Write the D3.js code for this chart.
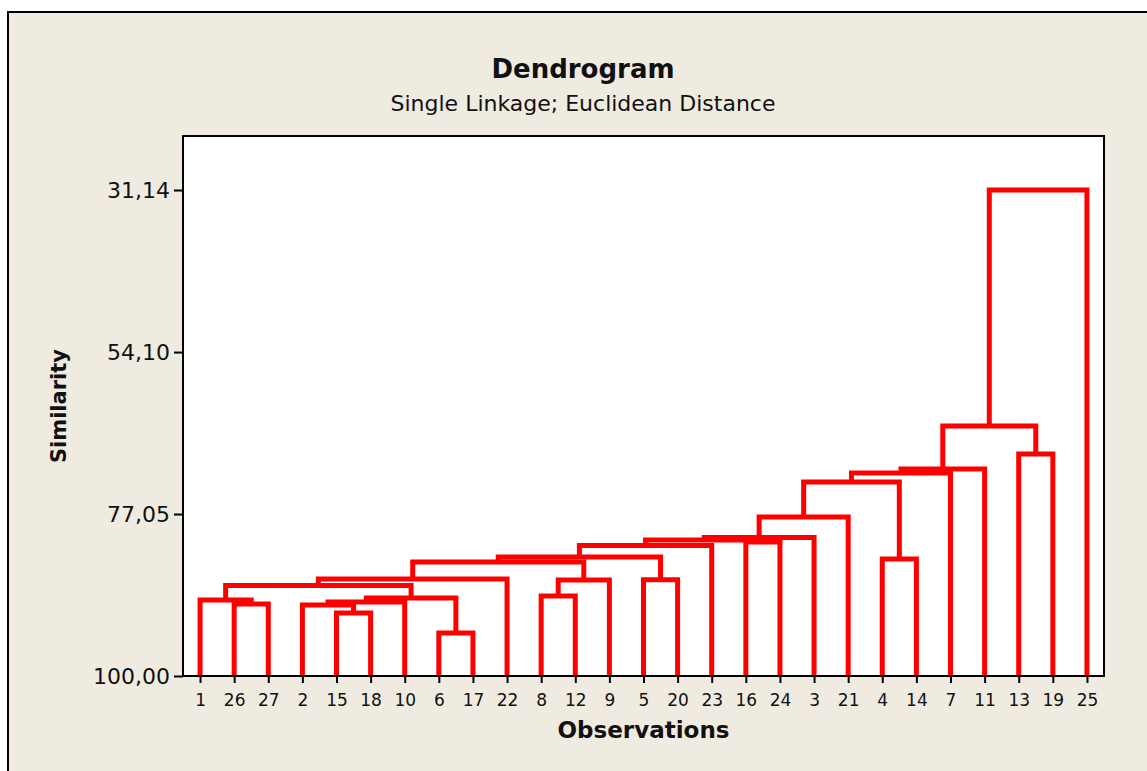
<!DOCTYPE html>
<html>
<head>
<meta charset="utf-8">
<script src="https://cdn.jsdelivr.net/npm/d3@7"></script>
<style>
  body { margin: 0; background: #fff; }
  text { font-family: 'DejaVu Sans', sans-serif; fill: #111; }
</style>
</head>
<body>
<svg id="chart" width="1147" height="771"></svg>
<script>
// leaf order along the x axis
const observations = [1, 26, 27, 2, 15, 18, 10, 6, 17, 22, 8, 12, 9, 5, 20, 23, 16, 24, 3, 21, 4, 14, 7, 11, 13, 19, 25];

// amalgamation steps (clusters joined, new cluster keeps the lower id)
const joinedA = [6, 15, 2, 26, 2, 1, 2, 8, 1, 8, 5, 1, 1, 4, 1, 1, 16, 1, 1, 1, 1, 1, 1, 13, 1, 1];
const joinedB = [17, 18, 15, 27, 10, 26, 6, 12, 2, 9, 20, 22, 8, 14, 5, 23, 24, 16, 3, 21, 4, 7, 11, 19, 13, 25];
const similarity = [93.91, 91.07, 89.94, 89.80, 89.52, 89.23, 88.95, 88.67, 87.18, 86.40, 86.35, 86.26,
  83.85, 83.42, 83.14, 81.51, 81.01, 80.73, 80.38, 77.47, 72.51, 71.24, 70.67, 68.55, 64.58, 31.14];

const yTicks = [31.14, 54.10, 77.05, 100.00];

const svg = d3.select('#chart'),
  plot = { left: 183, top: 136, right: 1104, bottom: 676 };

const fmt = d3.formatLocale({ decimal: ',', thousands: '.', grouping: [3], currency: ['', ''] }).format('.2f');

// figure background + frame
svg.append('rect')
  .attr('x', 8).attr('y', 12)
  .attr('width', 1200).attr('height', 800)
  .attr('fill', '#efebe1')
  .attr('stroke', '#000')
  .attr('stroke-width', 2);

svg.append('rect')
  .attr('x', plot.left).attr('y', plot.top)
  .attr('width', plot.right - plot.left)
  .attr('height', plot.bottom - plot.top)
  .attr('fill', '#fff');

const x = d3.scalePoint()
  .domain(observations)
  .range([plot.left, plot.right])
  .padding(0.5);

const y = d3.scaleLinear()
  .domain([100, 31.14])
  .range([plot.bottom, plot.top + 0.1 * (plot.bottom - plot.top)]);

// build the links
const nodes = new Map(observations.map(o => [o, { x: x(o), s: 100 }]));
const links = similarity.map((s, i) => {
  const a = nodes.get(joinedA[i]),
    b = nodes.get(joinedB[i]);
  nodes.set(Math.min(joinedA[i], joinedB[i]), { x: (a.x + b.x) / 2, s: s });
  return `M${a.x},${y(a.s)}V${y(s)}H${b.x}V${y(b.s)}`;
});

svg.append('g')
  .attr('fill', 'none')
  .attr('stroke', '#ff0000')
  .attr('stroke-width', 5)
  .selectAll('path')
  .data(links)
  .enter()
  .append('path')
  .attr('d', d => d);

svg.append('rect')
  .attr('x', plot.left).attr('y', plot.top)
  .attr('width', plot.right - plot.left)
  .attr('height', plot.bottom - plot.top)
  .attr('fill', 'none')
  .attr('stroke', '#000')
  .attr('stroke-width', 2);

const yAxis = g =>
  g
    .attr('transform', `translate(${plot.left},0)`)
    .call(d3.axisLeft(y).tickValues(yTicks).tickFormat(fmt).tickSize(9).tickPadding(4))
    .call(g => g.selectAll('.domain').remove())
    .call(g => g.selectAll('line').attr('stroke-width', 2))
    .call(g => g.selectAll('text').attr('font-size', 22).attr('font-family', 'DejaVu Sans'));

const xAxis = g =>
  g
    .attr('transform', `translate(0,${plot.bottom})`)
    .call(d3.axisBottom(x).tickSize(7).tickPadding(11))
    .call(g => g.selectAll('.domain').remove())
    .call(g => g.selectAll('line').attr('stroke-width', 2))
    .call(g => g.selectAll('text').attr('font-size', 17).attr('font-family', 'DejaVu Sans'));

svg.append('g').call(yAxis);
svg.append('g').call(xAxis);

svg.append('text')
  .attr('x', 583).attr('y', 78)
  .attr('text-anchor', 'middle')
  .attr('font-size', 26)
  .attr('font-weight', 'bold')
  .text('Dendrogram');

svg.append('text')
  .attr('x', 583).attr('y', 111)
  .attr('text-anchor', 'middle')
  .attr('font-size', 22)
  .text('Single Linkage; Euclidean Distance');

svg.append('text')
  .attr('x', (plot.left + plot.right) / 2).attr('y', 738)
  .attr('text-anchor', 'middle')
  .attr('font-size', 23)
  .attr('font-weight', 'bold')
  .text('Observations');

svg.append('text')
  .attr('transform', `translate(66,${(plot.top + plot.bottom) / 2}) rotate(-90)`)
  .attr('text-anchor', 'middle')
  .attr('font-size', 21)
  .attr('font-weight', 'bold')
  .text('Similarity');
</script>
</body>
</html>
